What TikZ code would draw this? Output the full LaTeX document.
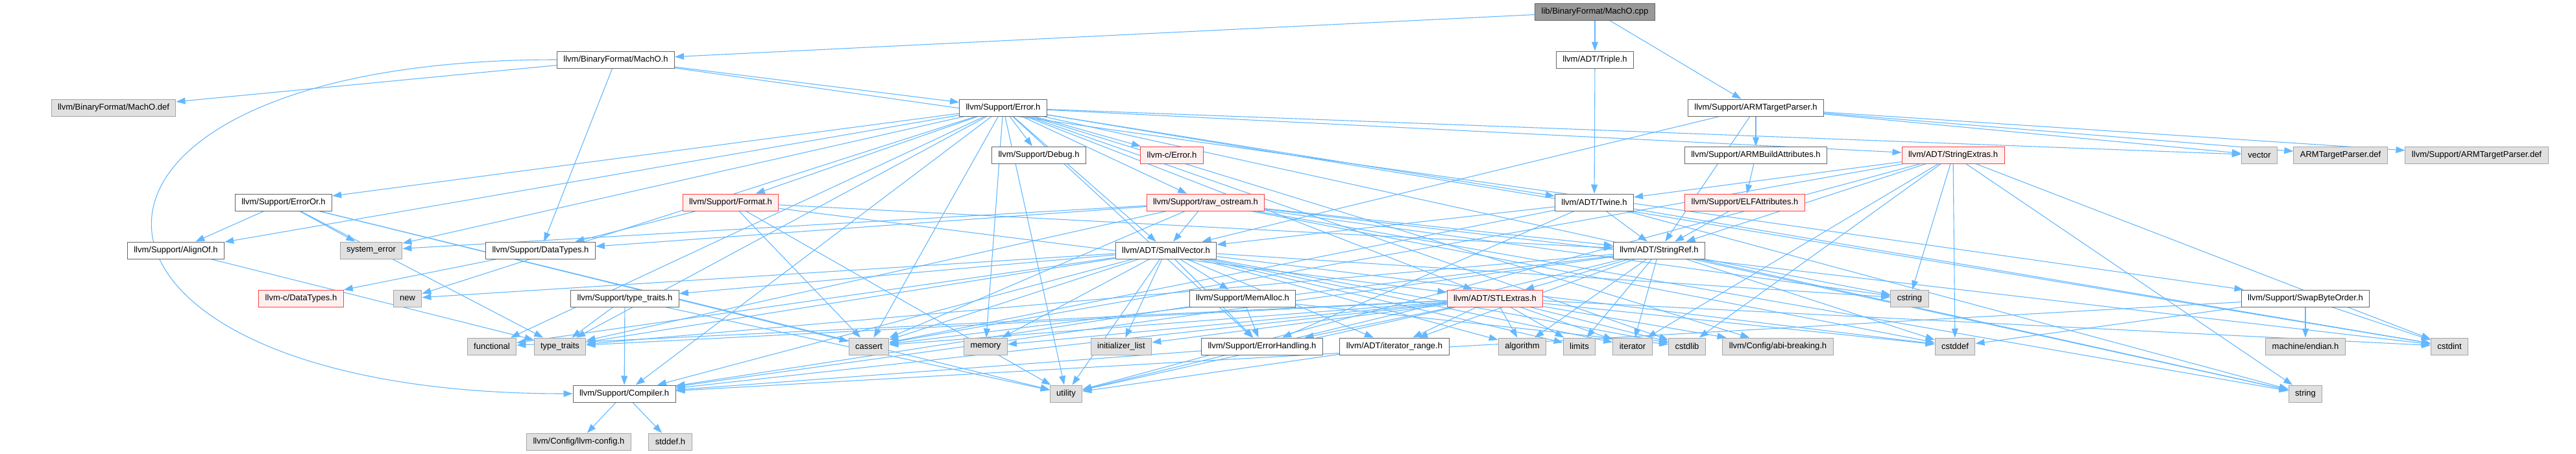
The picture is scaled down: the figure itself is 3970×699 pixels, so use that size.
\documentclass[tikz,border=0pt]{standalone}
\usepackage{fontspec}
\setmainfont{Liberation Sans}
\usetikzlibrary{arrows.meta,backgrounds}
\definecolor{edgeblue}{RGB}{99,184,255}
\definecolor{sysgray}{RGB}{224,224,224}
\definecolor{rootgray}{RGB}{153,153,153}
\definecolor{truncred}{RGB}{255,240,240}

\tikzset{
  file/.style={draw=black!60, fill=white, line width=1pt, minimum height=26pt,
    inner xsep=10pt, inner ysep=0pt, font=\fontsize{13}{15}\selectfont},
  sysfile/.style={file, draw=black!35, fill=sysgray},
  rootfile/.style={file, fill=rootgray},
  cutfile/.style={file, draw=red!75, fill=truncred},
  dep/.style={draw=edgeblue, line width=1.1pt, -{Triangle[length=14pt,width=10pt]}},
}

\begin{document}
\begin{tikzpicture}[x=1pt, y=-1pt]
    \useasboundingbox (0,0) rectangle (3970,699);

    % Root file
    \node[rootfile] (cpp) at (2458,18) {lib/BinaryFormat/MachO.cpp};

    % Direct includes
    \node[file] (macho) at (949,92) {llvm/BinaryFormat/MachO.h};
    \node[file] (triple) at (2458,92) {llvm/ADT/Triple.h};

    \node[sysfile] (machodef) at (175,166) {llvm/BinaryFormat/MachO.def};
    \node[file] (error) at (1546,166) {llvm/Support/Error.h};
    \node[file] (armtp) at (2706,166) {llvm/Support/ARMTargetParser.h};

    \node[file] (debug) at (1601,239) {llvm/Support/Debug.h};
    \node[cutfile] (cerror) at (1806,239) {llvm-c/Error.h};
    \node[file] (armba) at (2706,239) {llvm/Support/ARMBuildAttributes.h};
    \node[cutfile] (strext) at (3010,239) {llvm/ADT/StringExtras.h};
    \node[sysfile] (vector) at (3482,239) {vector};
    \node[sysfile] (armtpdef) at (3607,239) {ARMTargetParser.def};
    \node[sysfile] (suparmtpdef) at (3817,239) {llvm/Support/ARMTargetParser.def};

    \node[file] (erroror) at (437,312) {llvm/Support/ErrorOr.h};
    \node[cutfile] (format) at (1126,312) {llvm/Support/Format.h};
    \node[cutfile] (rawos) at (1858,312) {llvm/Support/raw\_ostream.h};
    \node[file] (twine) at (2457,312) {llvm/ADT/Twine.h};
    \node[cutfile] (elfattr) at (2689,312) {llvm/Support/ELFAttributes.h};

    \node[file] (alignof) at (271,386) {llvm/Support/AlignOf.h};
    \node[sysfile] (syserr) at (572,386) {system\_error};
    \node[file] (datatypes) at (833,386) {llvm/Support/DataTypes.h};
    \node[file] (smallvec) at (1797,386) {llvm/ADT/SmallVector.h};
    \node[file] (stringref) at (2557,386) {llvm/ADT/StringRef.h};

    \node[cutfile] (cdatatypes) at (464,460) {llvm-c/DataTypes.h};
    \node[sysfile] (new) at (628,460) {new};
    \node[file] (typetr) at (963,460) {llvm/Support/type\_traits.h};
    \node[file] (memalloc) at (1915,460) {llvm/Support/MemAlloc.h};
    \node[cutfile] (stlext) at (2304,460) {llvm/ADT/STLExtras.h};
    \node[sysfile] (cstring) at (2943,460) {cstring};
    \node[file] (swapbo) at (3553,460) {llvm/Support/SwapByteOrder.h};

    % Standard headers
    \node[sysfile] (functional) at (758,534) {functional};
    \node[sysfile] (typetraits) at (863,534) {type\_traits};
    \node[sysfile] (cassert) at (1339,534) {cassert};
    \node[sysfile] (memory) at (1519,534) {memory};
    \node[sysfile] (initlist) at (1728,534) {initializer\_list};
    \node[file] (errhand) at (1945,534) {llvm/Support/ErrorHandling.h};
    \node[file] (iterrange) at (2149,534) {llvm/ADT/iterator\_range.h};
    \node[sysfile] (algorithm) at (2346,534) {algorithm};
    \node[sysfile] (limits) at (2434,534) {limits};
    \node[sysfile] (iterator) at (2516,534) {iterator};
    \node[sysfile] (cstdlib) at (2600,534) {cstdlib};
    \node[sysfile] (abibreak) at (2740,534) {llvm/Config/abi-breaking.h};
    \node[sysfile] (cstddef) at (3013,534) {cstddef};
    \node[sysfile] (endian) at (3553,534) {machine/endian.h};
    \node[sysfile] (cstdint) at (3775,534) {cstdint};

    \node[file] (compiler) at (962,607) {llvm/Support/Compiler.h};
    \node[sysfile] (utility) at (1643,607) {utility};
    \node[sysfile] (string) at (3553,607) {string};

    \node[sysfile] (llvmconfig) at (892,681) {llvm/Config/llvm-config.h};
    \node[sysfile] (stddef) at (1033,681) {stddef.h};

    % Include edges
    \begin{pgfonlayer}{background}
    \path (cpp) edge[dep] (macho) edge[dep] (triple) edge[dep] (armtp);
    \path (macho) edge[dep] (machodef) edge[dep] (error) edge[dep] (datatypes)
        edge[dep] (swapbo) edge[dep, out=180, in=180, looseness=4.2] (compiler);
    \path (triple) edge[dep] (twine);
    \path (armtp) edge[dep] (armba) edge[dep] (stringref) edge[dep] (smallvec)
        edge[dep] (vector) edge[dep] (armtpdef) edge[dep] (suparmtpdef);
    \path (armba) edge[dep] (elfattr);
    \path (elfattr) edge[dep] (stringref);
    \path (error) edge[dep] (cerror) edge[dep] (stlext) edge[dep] (smallvec)
        edge[dep] (strext) edge[dep] (twine) edge[dep] (abibreak)
        edge[dep] (alignof) edge[dep] (compiler) edge[dep] (debug)
        edge[dep] (errhand) edge[dep] (erroror) edge[dep] (format)
        edge[dep] (rawos) edge[dep] (cassert) edge[dep] (cstdint)
        edge[dep] (cstdlib) edge[dep] (functional) edge[dep] (memory)
        edge[dep] (new) edge[dep] (string) edge[dep] (syserr)
        edge[dep] (typetraits) edge[dep] (utility) edge[dep] (vector);
    \path (strext) edge[dep] (twine) edge[dep] (stringref) edge[dep] (cstring)
        edge[dep] (cstddef) edge[dep] (cstdint) edge[dep] (cstdlib)
        edge[dep] (string) edge[dep] (iterator) edge[dep] (cassert)
        edge[dep] (utility);
    \path (erroror) edge[dep] (alignof) edge[dep] (cassert) edge[dep] (syserr)
        edge[dep] (typetraits) edge[dep] (utility);
    \path (alignof) edge[dep] (typetraits);
    \path (format) edge[dep] (stlext) edge[dep] (stringref) edge[dep] (datatypes)
        edge[dep] (cassert) edge[dep] (utility);
    \path (rawos) edge[dep] (smallvec) edge[dep] (stringref) edge[dep] (datatypes)
        edge[dep] (cassert) edge[dep] (cstddef) edge[dep] (cstdint)
        edge[dep] (cstring) edge[dep] (string) edge[dep] (syserr)
        edge[dep] (typetraits);
    \path (twine) edge[dep] (smallvec) edge[dep] (stringref) edge[dep] (errhand)
        edge[dep] (cassert) edge[dep] (cstdint) edge[dep] (string);
    \path (smallvec) edge[dep] (compiler) edge[dep] (errhand) edge[dep] (memalloc)
        edge[dep] (typetr) edge[dep] (algorithm) edge[dep] (cassert)
        edge[dep] (cstddef) edge[dep] (cstdlib) edge[dep] (cstring)
        edge[dep] (functional) edge[dep] (initlist) edge[dep] (iterator)
        edge[dep] (iterrange) edge[dep] (limits) edge[dep] (memory)
        edge[dep] (new) edge[dep] (typetraits) edge[dep] (utility);
    \path (stringref) edge[dep] (stlext) edge[dep] (iterrange) edge[dep] (compiler)
        edge[dep] (algorithm) edge[dep] (cassert) edge[dep] (cstddef)
        edge[dep] (cstring) edge[dep] (limits) edge[dep] (string)
        edge[dep] (typetraits) edge[dep] (utility) edge[dep] (iterator);
    \path (stlext) edge[dep] (iterrange) edge[dep] (errhand) edge[dep] (compiler)
        edge[dep] (abibreak) edge[dep] (algorithm) edge[dep] (cassert)
        edge[dep] (cstddef) edge[dep] (cstdint) edge[dep] (cstdlib)
        edge[dep] (functional) edge[dep] (initlist) edge[dep] (iterator)
        edge[dep] (limits) edge[dep] (memory) edge[dep] (typetraits)
        edge[dep] (utility);
    \path (memalloc) edge[dep] (compiler) edge[dep] (errhand) edge[dep] (cstdlib);
    \path (errhand) edge[dep] (compiler);
    \path (typetr) edge[dep] (compiler) edge[dep] (typetraits) edge[dep] (utility);
    \path (datatypes) edge[dep] (cdatatypes);
    \path (iterrange) edge[dep] (utility);
    \path (swapbo) edge[dep] (compiler) edge[dep] (cstddef) edge[dep] (endian)
        edge[dep] (cstdint);
    \path (compiler) edge[dep] (llvmconfig) edge[dep] (stddef);
    \end{pgfonlayer}
\end{tikzpicture}
\end{document}
